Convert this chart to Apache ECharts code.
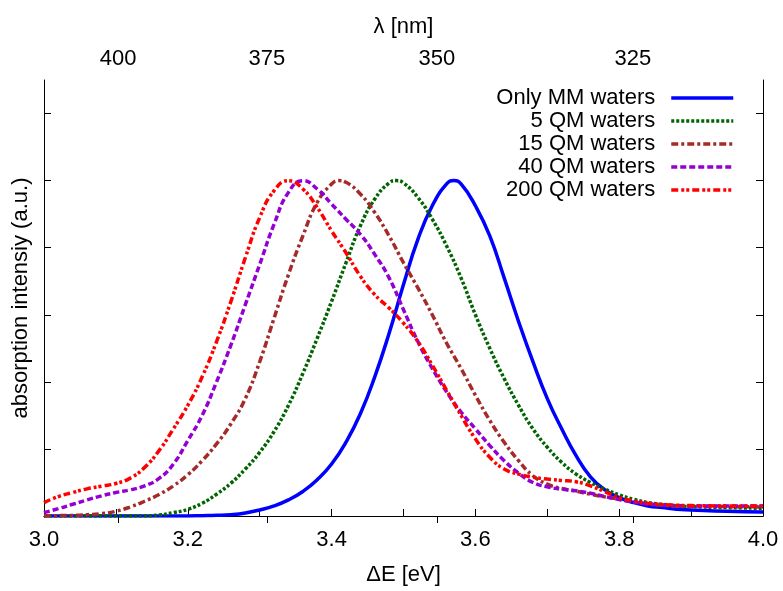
<!DOCTYPE html>
<html>
<head>
<meta charset="utf-8">
<script src="https://cdn.jsdelivr.net/npm/echarts@6/dist/echarts.min.js"></script>
<style>
  html, body { margin: 0; padding: 0; background: #fff; }
  #chart { width: 783px; height: 591px; }
</style>
</head>
<body>
<div id="chart"></div>
<script>
// photon energy grid [eV]
var energy = [3.00, 3.02, 3.04, 3.06, 3.08, 3.10, 3.12, 3.14, 3.16, 3.18,
    3.20, 3.22, 3.24, 3.26, 3.28, 3.30, 3.32, 3.34, 3.36, 3.38,
    3.40, 3.42, 3.44, 3.46, 3.48, 3.50, 3.52, 3.54, 3.56, 3.58,
    3.60, 3.62, 3.64, 3.66, 3.68, 3.70, 3.72, 3.74, 3.76, 3.78,
    3.80, 3.82, 3.84, 3.86, 3.88, 3.90, 3.95, 4.00]

var onlyMM = [0, 0, 0, 0, 0, 0, 0, 0, 0, 0,
    0, 0.001, 0.002, 0.004, 0.009, 0.018, 0.03, 0.048, 0.073, 0.108,
    0.155, 0.22, 0.305, 0.415, 0.545, 0.69, 0.825, 0.925, 0.99, 0.99,
    0.925, 0.835, 0.71, 0.58, 0.46, 0.35, 0.26, 0.18, 0.117, 0.078,
    0.055, 0.04, 0.03, 0.025, 0.02, 0.018, 0.014, 0.012]

var qm5 = [0, 0, 0, 0, 0, 0, 0, 0, 0.003, 0.01,
    0.02, 0.038, 0.065, 0.098, 0.14, 0.19, 0.252, 0.33, 0.425, 0.53,
    0.64, 0.755, 0.865, 0.945, 0.993, 0.993, 0.95, 0.885, 0.805, 0.71,
    0.60, 0.50, 0.41, 0.33, 0.26, 0.205, 0.16, 0.125, 0.10, 0.08,
    0.063, 0.05, 0.04, 0.035, 0.03, 0.028, 0.025, 0.023]

var qm15 = [0, 0.001, 0.002, 0.004, 0.007, 0.014, 0.027, 0.044, 0.064, 0.09,
    0.123, 0.165, 0.215, 0.275, 0.35, 0.46, 0.59, 0.72, 0.835, 0.935,
    0.99, 0.995, 0.96, 0.905, 0.835, 0.755, 0.68, 0.60, 0.515, 0.44,
    0.36, 0.285, 0.22, 0.165, 0.12, 0.095, 0.082, 0.074, 0.065, 0.057,
    0.05, 0.042, 0.036, 0.032, 0.03, 0.029, 0.028, 0.027]

var qm40 = [0.01, 0.022, 0.035, 0.048, 0.06, 0.07, 0.078, 0.09, 0.112, 0.155,
    0.225, 0.30, 0.40, 0.51, 0.63, 0.75, 0.87, 0.965, 1.0, 0.975,
    0.93, 0.885, 0.84, 0.78, 0.71, 0.615, 0.52, 0.44, 0.37, 0.31,
    0.26, 0.21, 0.165, 0.128, 0.10, 0.087, 0.08, 0.075, 0.068, 0.058,
    0.049, 0.042, 0.036, 0.033, 0.031, 0.03, 0.03, 0.03]

var qm200 = [0.04, 0.058, 0.07, 0.081, 0.089, 0.097, 0.113, 0.145, 0.195, 0.26,
    0.33, 0.415, 0.52, 0.64, 0.77, 0.89, 0.97, 1.0, 0.975, 0.92,
    0.85, 0.785, 0.715, 0.66, 0.62, 0.575, 0.52, 0.45, 0.375, 0.30,
    0.23, 0.175, 0.14, 0.125, 0.116, 0.11, 0.106, 0.102, 0.09, 0.072,
    0.055, 0.045, 0.038, 0.034, 0.032, 0.031, 0.03, 0.03]

var seriesNames = ['Only MM waters', '5 QM waters', '15 QM waters', '40 QM waters', '200 QM waters']
// band maxima (normalised to 1)
var peakEnergy = [3.57, 3.49, 3.41, 3.36, 3.34]
var peakValue = [1.0, 1.0, 1.0, 1.0, 1.0]

// axis ticks
var xTicks = [3.0, 3.1, 3.2, 3.3, 3.4, 3.5, 3.6, 3.7, 3.8, 3.9, 4.0]
var xTickLabels = [3.0, 3.2, 3.4, 3.6, 3.8, 4.0]
var yTicks = [0, 0.2, 0.4, 0.6, 0.8, 1.0, 1.2]
var lambdaTicks = [400, 375, 350, 325]
var HC = 1241.2 // eV*nm, as used for the top axis

var FONT = 'Liberation Sans'
var lambdaPos = lambdaTicks.map(function (l) { return HC / l })

// grid values plus the maximum, sorted by energy
function pairs(ys, k) {
    var pts = energy.map(function (e, i) { return [e, ys[i]] })
        .filter(function (p) { return Math.abs(p[0] - peakEnergy[k]) > 1e-6 })
    pts.push([peakEnergy[k], peakValue[k]])
    pts.sort(function (a, b) { return a[0] - b[0] })
    return pts
}

var chart = echarts.init(document.getElementById('chart'))

function line(k, ys, color, dash) {
    return {
        name: seriesNames[k],
        type: 'line',
        data: pairs(ys, k),
        showSymbol: false,
        symbol: 'none',
        smooth: 0.5,
        lineStyle: { color: color, width: 3.5, type: dash },
        itemStyle: { color: color }
    }
}

var axisLine = { show: true, lineStyle: { color: '#000', width: 1 } }

chart.setOption({
    animation: false,
    backgroundColor: '#fff',
    textStyle: { fontFamily: FONT },
    grid: { left: 44, right: 20, top: 80, bottom: 74 },
    legend: {
        data: seriesNames,
        orient: 'vertical',
        align: 'right',
        right: 48,
        top: 87,
        padding: 0,
        itemGap: 1,
        itemWidth: 62,
        itemHeight: 14,
        itemStyle: { opacity: 0 },
        lineStyle: { width: 3.5 },
        textStyle: { fontFamily: FONT, fontSize: 22, color: '#000', lineHeight: 22, padding: [0, 11, 0, 0] }
    },
    xAxis: [{
        type: 'value',
        position: 'bottom',
        min: 3,
        max: 4,
        name: 'ΔE [eV]',
        nameLocation: 'middle',
        nameGap: 48,
        nameTextStyle: { fontFamily: FONT, fontSize: 22, color: '#000' },
        axisLine: axisLine,
        axisTick: { inside: true, length: 7, customValues: xTicks, lineStyle: { color: '#000' } },
        axisLabel: {
            customValues: xTickLabels,
            margin: 13,
            fontFamily: FONT, fontSize: 22, color: '#000',
            formatter: function (v) { return v.toFixed(1) }
        },
        splitLine: { show: false }
    }, {
        type: 'value',
        position: 'top',
        min: 3,
        max: 4,
        name: 'λ [nm]',
        nameLocation: 'middle',
        nameGap: 42,
        nameTextStyle: { fontFamily: FONT, fontSize: 22, color: '#000' },
        axisLine: axisLine,
        axisTick: { inside: true, length: 7, customValues: lambdaPos, lineStyle: { color: '#000' } },
        axisLabel: {
            customValues: lambdaPos,
            margin: 10,
            fontFamily: FONT, fontSize: 22, color: '#000',
            formatter: function (v) { return String(Math.round(HC / v)) }
        },
        splitLine: { show: false }
    }],
    yAxis: [{
        type: 'value',
        position: 'left',
        min: 0,
        max: 1.3,
        name: 'absorption intensiy (a.u.)',
        nameLocation: 'middle',
        nameGap: 12,
        nameTextStyle: { fontFamily: FONT, fontSize: 22, color: '#000' },
        axisLine: axisLine,
        axisTick: { inside: true, length: 7, customValues: yTicks, lineStyle: { color: '#000' } },
        axisLabel: { show: false },
        splitLine: { show: false }
    }, {
        type: 'value',
        position: 'right',
        min: 0,
        max: 1.3,
        axisLine: axisLine,
        axisTick: { inside: true, length: 7, customValues: yTicks, lineStyle: { color: '#000' } },
        axisLabel: { show: false },
        splitLine: { show: false }
    }],
    series: [
        line(0, onlyMM, '#0000ff', 'solid'),
        line(1, qm5, '#006400', [3, 2]),
        line(2, qm15, '#a52a2a', [7, 3, 3, 3]),
        line(3, qm40, '#9400d3', [6, 3]),
        line(4, qm200, '#ff0000', [7, 3, 3, 2, 3, 3])
    ]
})
</script>
</body>
</html>
